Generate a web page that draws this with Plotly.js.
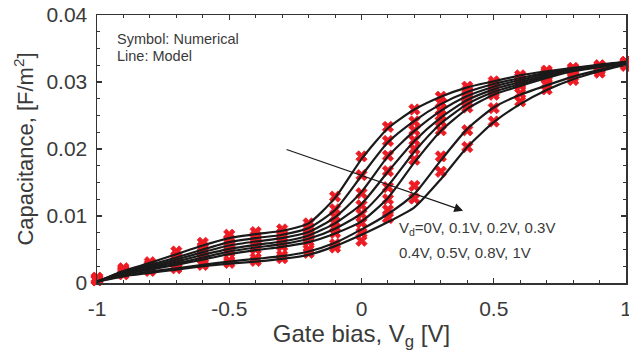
<!DOCTYPE html>
<html>
<head>
<meta charset="utf-8">
<script src="https://cdn.plot.ly/plotly-3.0.1.min.js"></script>
<style>html,body{margin:0;padding:0;background:#fff}#chart{width:629px;height:356px}</style>
</head>
<body>
<div id="chart"></div>
<script>
// Gate bias values (V)
const gateBias = [-1,-0.9,-0.8,-0.7,-0.6,-0.5,-0.4,-0.3,-0.2,-0.1,0,0.1,0.2,0.3,0.4,0.5,0.6,0.7,0.8,0.9,1];
const drainLabels = ['0V','0.1V','0.2V','0.3V','0.4V','0.5V','0.8V','1V'];
const xTickVals = [-1,-0.5,0,0.5,1];
const xTickText = ['-1','-0.5','0','0.5','1'];
const yTickVals = [0,0.01,0.02,0.03,0.04];
const yTickText = ['0','0.01','0.02','0.03','0.04'];

// Numerical (symbols), F/m^2
const num_Vd0   = [0.0008,0.0022,0.0031,0.0047,0.0060,0.0072,0.0076,0.0080,0.0089,0.0129,0.0189,0.0233,0.0259,0.0278,0.0293,0.0301,0.0310,0.0317,0.0321,0.0325,0.0330];
const num_Vd01  = [0.0007,0.0020,0.0028,0.0040,0.0054,0.0065,0.0070,0.0074,0.0083,0.0110,0.0161,0.0212,0.0241,0.0269,0.0287,0.0297,0.0307,0.0315,0.0320,0.0324,0.0330];
const num_Vd02  = [0.0006,0.0019,0.0026,0.0036,0.0049,0.0060,0.0065,0.0069,0.0077,0.0099,0.0134,0.0190,0.0228,0.0258,0.0281,0.0293,0.0304,0.0313,0.0318,0.0323,0.0329];
const num_Vd03  = [0.0006,0.0018,0.0024,0.0033,0.0045,0.0055,0.0060,0.0064,0.0072,0.0090,0.0116,0.0167,0.0213,0.0250,0.0275,0.0289,0.0301,0.0311,0.0317,0.0322,0.0329];
const num_Vd04  = [0.0005,0.0017,0.0022,0.0030,0.0041,0.0050,0.0055,0.0060,0.0067,0.0082,0.0103,0.0143,0.0200,0.0241,0.0268,0.0285,0.0298,0.0309,0.0316,0.0321,0.0328];
const num_Vd05  = [0.0005,0.0016,0.0021,0.0028,0.0038,0.0046,0.0051,0.0055,0.0062,0.0075,0.0090,0.0125,0.0184,0.0228,0.0262,0.0281,0.0295,0.0306,0.0314,0.0320,0.0328];
const num_Vd08  = [0.0004,0.0014,0.0019,0.0024,0.0029,0.0033,0.0037,0.0041,0.0050,0.0058,0.0075,0.0109,0.0145,0.0189,0.0228,0.0261,0.0283,0.0296,0.0308,0.0318,0.0326];
const num_Vd1   = [0.0004,0.0013,0.0018,0.0022,0.0027,0.0030,0.0033,0.0037,0.0045,0.0053,0.0063,0.0097,0.0126,0.0166,0.0203,0.0241,0.0271,0.0289,0.0303,0.0314,0.0324];

// Model (lines), F/m^2
const mod_Vd0   = [0.0002,0.0018,0.0030,0.0043,0.0056,0.0067,0.0073,0.0078,0.0089,0.0127,0.0185,0.0231,0.0259,0.0278,0.0292,0.0301,0.0310,0.0316,0.0321,0.0326,0.0330];
const mod_Vd01  = [0.0002,0.0017,0.0027,0.0038,0.0050,0.0061,0.0067,0.0072,0.0082,0.0109,0.0160,0.0210,0.0242,0.0267,0.0285,0.0297,0.0306,0.0314,0.0320,0.0325,0.0330];
const mod_Vd02  = [0.0002,0.0016,0.0025,0.0035,0.0046,0.0056,0.0062,0.0067,0.0076,0.0098,0.0136,0.0189,0.0227,0.0257,0.0279,0.0293,0.0303,0.0312,0.0319,0.0324,0.0329];
const mod_Vd03  = [0.0002,0.0015,0.0023,0.0032,0.0042,0.0051,0.0057,0.0062,0.0071,0.0089,0.0118,0.0166,0.0212,0.0247,0.0273,0.0289,0.0300,0.0310,0.0318,0.0324,0.0329];
const mod_Vd04  = [0.0002,0.0014,0.0021,0.0029,0.0038,0.0047,0.0053,0.0058,0.0066,0.0081,0.0104,0.0145,0.0196,0.0238,0.0267,0.0285,0.0297,0.0308,0.0317,0.0323,0.0329];
const mod_Vd05  = [0.0002,0.0013,0.0020,0.0027,0.0035,0.0043,0.0049,0.0054,0.0061,0.0074,0.0092,0.0127,0.0180,0.0227,0.0260,0.0281,0.0294,0.0306,0.0316,0.0322,0.0328];
const mod_Vd08  = [0.0002,0.0011,0.0017,0.0022,0.0027,0.0032,0.0036,0.0040,0.0047,0.0060,0.0080,0.0103,0.0133,0.0183,0.0230,0.0262,0.0281,0.0295,0.0308,0.0318,0.0327];
const mod_Vd1   = [0.0002,0.0010,0.0015,0.0020,0.0025,0.0029,0.0032,0.0036,0.0042,0.0055,0.0072,0.0091,0.0113,0.0155,0.0203,0.0240,0.0267,0.0288,0.0304,0.0316,0.0326];

const numSeries = [num_Vd0,num_Vd01,num_Vd02,num_Vd03,num_Vd04,num_Vd05,num_Vd08,num_Vd1];
const modSeries = [mod_Vd0,mod_Vd01,mod_Vd02,mod_Vd03,mod_Vd04,mod_Vd05,mod_Vd08,mod_Vd1];

const FONT = 'Arial, "Liberation Sans", sans-serif';
const TXT = '#3a3a3a';
const traces = [];
numSeries.forEach((ys, i) => {
  traces.push({x: gateBias, y: ys, type: 'scatter', mode: 'markers', name: 'Num Vd=' + drainLabels[i],
    marker: {symbol: 'x', size: 10, color: '#ED1C24', line: {width: 0.8, color: '#ED1C24'}}, showlegend: false, cliponaxis: false});
});
modSeries.forEach((ys, i) => {
  traces.push({x: gateBias, y: ys, type: 'scatter', mode: 'lines', name: 'Model Vd=' + drainLabels[i],
    line: {color: '#1a1a1a', width: 2.2, shape: 'spline', smoothing: 0.6}, showlegend: false});
});

const layout = {
  width: 629, height: 356,
  margin: {l: 97, r: 3, t: 15, b: 73},
  paper_bgcolor: '#fff', plot_bgcolor: '#fff',
  font: {family: FONT, color: TXT, size: 20},
  xaxis: {
    range: [-1, 1], tickmode: 'array', tickvals: xTickVals, ticktext: xTickText,
    ticks: 'inside', ticklen: 5, tickwidth: 1.2, tickcolor: '#333',
    minor: {dtick: 0.1, tick0: -1, ticks: 'inside', ticklen: 3, tickcolor: '#333', tickwidth: 1},
    showline: true, linecolor: '#333', linewidth: 1.5, mirror: 'ticks', showgrid: false, zeroline: false,
    tickfont: {size: 21, color: TXT}, ticklabelstandoff: 6, ticklabeloverflow: 'allow',
    title: {text: 'Gate bias, V<sub>g</sub> [V]', font: {size: 24, color: TXT}, standoff: 5}
  },
  yaxis: {
    range: [0, 0.04], tickmode: 'array', tickvals: yTickVals, ticktext: yTickText,
    ticks: 'inside', ticklen: 5, tickwidth: 1.2, tickcolor: '#333',
    minor: {dtick: 0.0025, tick0: 0, ticks: 'inside', ticklen: 3, tickcolor: '#333', tickwidth: 1},
    showline: true, linecolor: '#333', linewidth: 1.5, mirror: 'ticks', showgrid: false, zeroline: false,
    tickfont: {size: 21, color: TXT}, ticklabelstandoff: 4, ticklabeloverflow: 'allow',
    title: {text: 'Capacitance, [F/m<sup>2</sup>]', font: {size: 22, color: TXT}, standoff: 6}
  },
  showlegend: false,
  annotations: [
    {x: -0.932, y: 0.0364, xref: 'x', yref: 'y', text: 'Symbol: Numerical', showarrow: false, xanchor: 'left', yanchor: 'middle', font: {size: 14.5, color: TXT}},
    {x: -0.932, y: 0.0339, xref: 'x', yref: 'y', text: 'Line: Model', showarrow: false, xanchor: 'left', yanchor: 'middle', font: {size: 14.5, color: TXT}},
    {x: 0.136, y: 0.0082, xref: 'x', yref: 'y', text: 'V<sub>d</sub>=0V, 0.1V, 0.2V, 0.3V', showarrow: false, xanchor: 'left', yanchor: 'middle', font: {size: 15, color: TXT}},
    {x: 0.136, y: 0.0046, xref: 'x', yref: 'y', text: '0.4V, 0.5V, 0.8V, 1V', showarrow: false, xanchor: 'left', yanchor: 'middle', font: {size: 15, color: TXT}},
    {x: 0.384, y: 0.0108, ax: -0.289, ay: 0.0200, xref: 'x', yref: 'y', axref: 'x', ayref: 'y', text: '',
     showarrow: true, arrowhead: 2, arrowsize: 1.6, arrowwidth: 1.1, arrowcolor: '#1a1a1a', standoff: 0}
  ]
};

Plotly.newPlot('chart', traces, layout, {displayModeBar: false, staticPlot: true});
</script>
</body>
</html>
